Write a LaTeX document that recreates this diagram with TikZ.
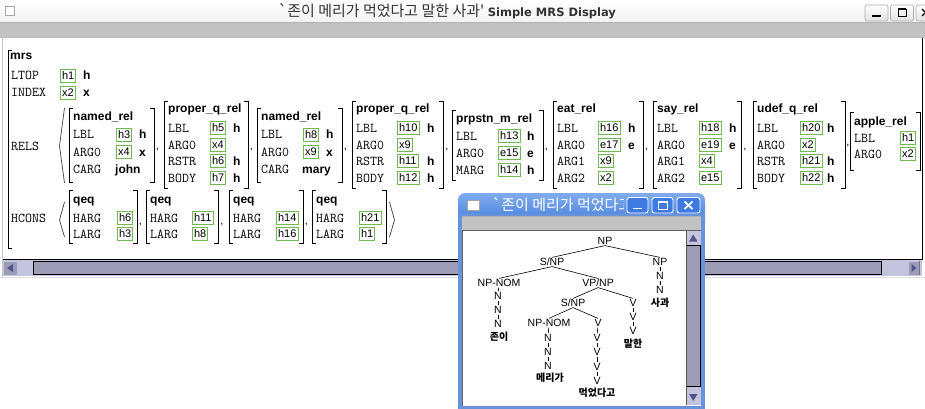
\documentclass[tikz,border=0pt]{standalone}
\usepackage{fontspec}
\setmainfont{Liberation Sans}
\newfontfamily\krfont{Noto Sans CJK KR}
\newfontfamily\dvfont{DejaVu Sans}
\usetikzlibrary{calc}

\definecolor{boxgreen}{RGB}{112,186,80}
\definecolor{barGray}{RGB}{194,194,194}
\definecolor{sbTrack}{RGB}{156,156,182}
\definecolor{sbLight}{RGB}{196,196,222}
\definecolor{sbArrow}{RGB}{84,84,140}
\definecolor{xpTop}{RGB}{128,172,238}
\definecolor{xpBot}{RGB}{56,116,214}
\definecolor{xpFrame}{RGB}{104,146,218}
\definecolor{xpBtn}{RGB}{62,122,226}

% AVM brackets: left x, right x, top y, bottom y
\newcommand\avmbrk[4]{%
  \draw[avmline] (#1+4,#3) -- (#1,#3) -- (#1,#4) -- (#1+4,#4);
  \draw[avmline] (#2-4,#3) -- (#2,#3) -- (#2,#4) -- (#2-4,#4);}
% feature row: label x, box x, y, label, value
\newcommand\frow[5]{%
  \node[feat] at (#1,#3) {#4};
  \node[vbox] at (#2,#3) {#5};}
% sort marker after a value: x, y, sort
\newcommand\srt[3]{\node[sortmark] at (#1,#2) {#3};}
% comma between list members
\newcommand\lsep[2]{\node[sepmark] at (#1,#2) {,};}

\begin{document}
\begin{tikzpicture}[x=1pt,y=-1pt,
  avmline/.style={black,line width=0.8pt},
  angleline/.style={black!75,line width=0.7pt},
  feat/.style={anchor=west,inner sep=0pt,font=\ttfamily\addfontfeature{FakeBold=0.6}\fontsize{13.5}{13.5}\selectfont,text height=8pt,text depth=0pt},
  vbox/.style={anchor=west,draw=boxgreen,line width=0.9pt,inner xsep=1.6pt,inner ysep=1.5pt,
    font=\fontsize{11}{11}\selectfont,text height=8pt,text depth=1.5pt},
  sortmark/.style={anchor=west,inner sep=0pt,font=\bfseries\fontsize{12}{12}\selectfont,text height=8pt,text depth=0pt},
  typename/.style={anchor=west,inner sep=0pt,font=\bfseries\fontsize{12}{12}\selectfont,text height=8pt,text depth=2pt},
  sepmark/.style={anchor=base,inner sep=0pt,font=\fontsize{11}{11}\selectfont},
  tnode/.style={inner sep=0.6pt,font=\fontsize{10.5}{10.5}\selectfont,text height=7.6pt,text depth=0pt},
  leaf/.style={inner sep=0.6pt,font=\krfont\bfseries\fontsize{10}{10}\selectfont,text height=8pt,text depth=1pt},
  edge/.style={black,line width=0.6pt},
  winbtn/.style={draw=gray!65,rounded corners=2pt,top color=white,bottom color=gray!22,line width=0.6pt},
  xpbtn/.style={draw=white,rounded corners=2.5pt,fill=xpBtn,line width=0.9pt}]

\useasboundingbox (0,0) rectangle (925,409);
\fill[white] (0,0) rectangle (925,409);

%% ---------- main window ----------
% title bar
\shade[top color=white,bottom color=gray!10] (0,0) rectangle (925,22);
\draw[gray!60] (0,22.5) -- (925,22.5);
\draw[gray!70,fill=white] (5.5,6.5) rectangle (14.5,15.5);
\node[anchor=west,inner sep=0pt,text=black!80] (maintitle) at (278,11.5)
  {\krfont\fontsize{15}{15}\selectfont `존이 메리가 먹었다고 말한 사과'\hspace{3.5pt}{\dvfont\bfseries\fontsize{11.5}{11.5}\selectfont Simple MRS Display}};
% title buttons
\draw[winbtn] (865,5) rectangle (888,21);
\draw[black,line width=1.6pt] (872,16) -- (881,16);
\draw[winbtn] (890.5,5) rectangle (913.5,21);
\draw[black,line width=0.9pt] (898,9) rectangle (906,16.5);
\draw[black,line width=1.6pt] (898,9.2) -- (906,9.2);
\draw[winbtn] (916,5) rectangle (932,21);
\draw[black,line width=1.3pt] (922,9) -- (925,12);
\draw[black,line width=1.3pt] (922,16) -- (925,13);
% menu band
\fill[barGray] (0,23) rectangle (925,37.5);
\draw[gray!55] (0,37.7) -- (925,37.7);
% content frame
\draw[gray!45] (2.5,38) -- (2.5,277);
\draw[black,line width=1pt] (922.5,38) -- (922.5,259);
\draw[black,line width=0.8pt] (3,259.5) -- (922.5,259.5);

% horizontal scroll bar
\fill[sbLight] (3,260) rectangle (922,276);
\fill[sbTrack] (4,261.5) rectangle (17,274.5);
\fill[sbArrow] (7,268) -- (13,264) -- (13,272) -- cycle;
\fill[sbLight] (17,261.5) rectangle (33,274.5);
\draw[black,line width=1pt,fill=sbTrack] (33.5,261.5) rectangle (881,274.5);
\fill[sbTrack] (909,261.5) rectangle (919,274.5);
\fill[sbArrow] (916.5,268) -- (911.5,264) -- (911.5,272) -- cycle;
\draw[black!55] (919.5,261) -- (919.5,275);
\draw[gray!25,line width=1.5pt] (0,277.5) -- (925,277.5);

%% ---------- MRS structure ----------
\draw[avmline] (12,50) -- (8,50) -- (8,248) -- (12,248);
\node[typename] at (10,57) {mrs};
\node[feat] at (11,76) {LTOP};
\node[vbox] at (60,76) {h1}; \srt{83}{76}{h}
\node[feat] at (11,93) {INDEX};
\node[vbox] at (60,93) {x2}; \srt{83}{93}{x}
\node[feat] at (11,146) {RELS};
\node[feat] at (11,218) {HCONS};

% RELS list
\draw[angleline] (64.5,108) -- (59.5,146) -- (64.5,183);

\avmbrk{69}{154}{108}{182}
\node[typename] at (73,118) {named\_rel};
\frow{73}{116}{135}{LBL}{h3} \srt{139}{135}{h}
\frow{73}{116}{152}{ARG0}{x4} \srt{139}{152}{x}
\node[feat] at (73,169) {CARG}; \node[sortmark] at (115,169) {john};
\lsep{157.5}{149}

\avmbrk{164}{248}{101}{188}
\node[typename] at (168,110) {proper\_q\_rel};
\frow{168}{210}{128}{LBL}{h5} \srt{233}{128}{h}
\frow{168}{210}{145}{ARG0}{x4}
\frow{168}{210}{161}{RSTR}{h6} \srt{233}{161}{h}
\frow{168}{210}{178}{BODY}{h7} \srt{233}{178}{h}
\lsep{251.5}{149}

\avmbrk{257}{342}{108}{182}
\node[typename] at (261,118) {named\_rel};
\frow{261}{303}{135}{LBL}{h8} \srt{326}{135}{h}
\frow{261}{303}{152}{ARG0}{x9} \srt{326}{152}{x}
\node[feat] at (261,169) {CARG}; \node[sortmark] at (302,169) {mary};
\lsep{345.5}{149}

\avmbrk{352}{443}{101}{188}
\node[typename] at (356,110) {proper\_q\_rel};
\frow{356}{397}{128}{LBL}{h10} \srt{427}{128}{h}
\frow{356}{397}{145}{ARG0}{x9}
\frow{356}{397}{161}{RSTR}{h11} \srt{427}{161}{h}
\frow{356}{397}{178}{BODY}{h12} \srt{427}{178}{h}
\lsep{447}{149}

\avmbrk{452}{543}{110}{180}
\node[typename] at (456,119) {prpstn\_m\_rel};
\frow{456}{498}{136}{LBL}{h13} \srt{527}{136}{h}
\frow{456}{498}{153}{ARG0}{e15} \srt{527}{153}{e}
\frow{456}{498}{170}{MARG}{h14} \srt{527}{170}{h}
\lsep{546.5}{149}

\avmbrk{553}{643}{101}{188}
\node[typename] at (557,110) {eat\_rel};
\frow{557}{598}{128}{LBL}{h16} \srt{628}{128}{h}
\frow{557}{598}{145}{ARG0}{e17} \srt{628}{145}{e}
\frow{557}{598}{161}{ARG1}{x9}
\frow{557}{598}{178}{ARG2}{x2}
\lsep{646.5}{149}

\avmbrk{653}{741}{101}{188}
\node[typename] at (657,110) {say\_rel};
\frow{657}{699}{128}{LBL}{h18} \srt{729}{128}{h}
\frow{657}{699}{145}{ARG0}{e19} \srt{729}{145}{e}
\frow{657}{699}{161}{ARG1}{x4}
\frow{657}{699}{178}{ARG2}{e15}
\lsep{745}{149}

\avmbrk{753}{845}{101}{188}
\node[typename] at (757,110) {udef\_q\_rel};
\frow{757}{800}{128}{LBL}{h20} \srt{827}{128}{h}
\frow{757}{800}{145}{ARG0}{x2}
\frow{757}{800}{161}{RSTR}{h21} \srt{827}{161}{h}
\frow{757}{800}{178}{BODY}{h22} \srt{827}{178}{h}
\lsep{848}{145}

\avmbrk{850}{920}{112}{170}
\node[typename] at (854,122) {apple\_rel};
\frow{854}{900}{138}{LBL}{h1}
\frow{854}{900}{154}{ARG0}{x2}

% HCONS list
\draw[angleline] (64.5,202) -- (59.5,220) -- (64.5,237);

\avmbrk{69}{137}{190}{243}
\node[typename] at (73,200) {qeq};
\frow{73}{117}{218}{HARG}{h6}
\frow{73}{117}{234}{LARG}{h3}
\lsep{140.5}{224}

\avmbrk{146}{218}{190}{243}
\node[typename] at (150,200) {qeq};
\frow{150}{192}{218}{HARG}{h11}
\frow{150}{192}{234}{LARG}{h8}
\lsep{222}{224}

\avmbrk{229}{303}{190}{243}
\node[typename] at (233,200) {qeq};
\frow{233}{276}{218}{HARG}{h14}
\frow{233}{276}{234}{LARG}{h16}
\lsep{306.5}{224}

\avmbrk{312}{386}{190}{243}
\node[typename] at (316,200) {qeq};
\frow{316}{359}{218}{HARG}{h21}
\frow{316}{359}{234}{LARG}{h1}
\draw[angleline] (389.5,202) -- (394.5,220) -- (389.5,237);

%% ---------- parse tree window ----------
\shade[top color=xpTop,bottom color=xpBot,rounded corners=7pt] (458,193) rectangle (705,230);
\fill[xpFrame] (458,214) rectangle (705,409);
\fill[barGray] (462,216) rectangle (701,230);
\draw[gray!60] (462,216.5) -- (701,216.5);
\draw[gray!75!black] (462,229.8) -- (701,229.8);
\fill[white] (462.5,230.5) rectangle (701,405.5);
\draw[gray!80!black,line width=0.8pt] (462.5,230) -- (462.5,405.5);
% window icon and title
\draw[gray!70,fill=white] (467.5,200.5) rectangle (479.5,210.5);
\begin{scope}
  \clip (483,193) rectangle (623,216);
  \node[anchor=west,inner sep=0pt,text=white] (treetitle) at (492,205)
    {\krfont\fontsize{15}{15}\selectfont `존이 메리가 먹었다고};
\end{scope}
\draw[xpbtn] (627,197.5) rectangle (648,213);
\draw[white,line width=1.8pt] (633,208.5) -- (641.5,208.5);
\draw[xpbtn] (652,197.5) rectangle (673,213);
\draw[white,line width=1pt] (658,201.5) rectangle (667,209.5);
\draw[white,line width=1.8pt] (658,202) -- (667,202);
\draw[xpbtn] (677,197.5) rectangle (700,213);
\draw[white,line width=1.8pt] (684.5,201.5) -- (692.5,209);
\draw[white,line width=1.8pt] (684.5,209) -- (692.5,201.5);
% vertical scroll bar
\fill[sbLight] (686,231) rectangle (700.5,405);
\fill[sbArrow] (693.2,234.5) -- (689,241.5) -- (697.5,241.5) -- cycle;
\draw[black,line width=1pt,fill=sbTrack] (686.5,245.5) rectangle (700,386);
\fill[sbArrow] (693.2,401) -- (689,394) -- (697.5,394) -- cycle;
\draw[gray!70!black] (685.8,231) -- (685.8,405);

% tree nodes
\node[tnode] (np0)   at (605,241) {NP};
\node[tnode] (snpA)  at (552,262) {S/NP};
\node[tnode] (npR)   at (660,262) {NP};
\node[tnode] (nR1)   at (660,276) {N};
\node[tnode] (nR2)   at (660,290) {N};
\node[leaf]  (wApple) at (660,302.5) {사과};
\node[tnode] (nomA)  at (499,283) {NP-NOM};
\node[tnode] (vpnp)  at (598,283) {VP/NP};
\node[tnode] (nA1)   at (498,296) {N};
\node[tnode] (nA2)   at (498,310) {N};
\node[tnode] (nA3)   at (498,324) {N};
\node[leaf]  (wJohn) at (499,337) {존이};
\node[tnode] (snpB)  at (573,303) {S/NP};
\node[tnode] (vR)    at (633,303) {V};
\node[tnode] (vR1)   at (633,317) {V};
\node[tnode] (vR2)   at (633,331) {V};
\node[leaf]  (wSaid) at (633,344) {말한};
\node[tnode] (nomB)  at (549,323) {NP-NOM};
\node[tnode] (vM)    at (598,323) {V};
\node[tnode] (nB1)   at (548,338) {N};
\node[tnode] (nB2)   at (548,352) {N};
\node[tnode] (nB3)   at (548,366) {N};
\node[leaf]  (wMary) at (550,378) {메리가};
\node[tnode] (vM1)   at (597,338) {V};
\node[tnode] (vM2)   at (597,352) {V};
\node[tnode] (vM3)   at (597,367) {V};
\node[tnode] (vM4)   at (597,381) {V};
\node[leaf]  (wAte)  at (597,393) {먹었다고};

% tree branches
\draw[edge] (np0.south) -- (snpA.north);
\draw[edge] (np0.south) -- (npR.north);
\draw[edge] (npR) -- (nR1);
\draw[edge] (nR1) -- (nR2);
\draw[edge] (snpA.south) -- (nomA.north);
\draw[edge] (snpA.south) -- (vpnp.north);
\draw[edge] (nomA) -- (nA1);
\draw[edge] (nA1) -- (nA2);
\draw[edge] (nA2) -- (nA3);
\draw[edge] (vpnp.south) -- (snpB.north);
\draw[edge] (vpnp.south) -- (vR.north);
\draw[edge] (vR) -- (vR1);
\draw[edge] (vR1) -- (vR2);
\draw[edge] (snpB.south) -- (nomB.north);
\draw[edge] (snpB.south) -- (vM.north);
\draw[edge] (nomB) -- (nB1);
\draw[edge] (nB1) -- (nB2);
\draw[edge] (nB2) -- (nB3);
\draw[edge] (vM) -- (vM1);
\draw[edge] (vM1) -- (vM2);
\draw[edge] (vM2) -- (vM3);
\draw[edge] (vM3) -- (vM4);
\end{tikzpicture}
\end{document}
